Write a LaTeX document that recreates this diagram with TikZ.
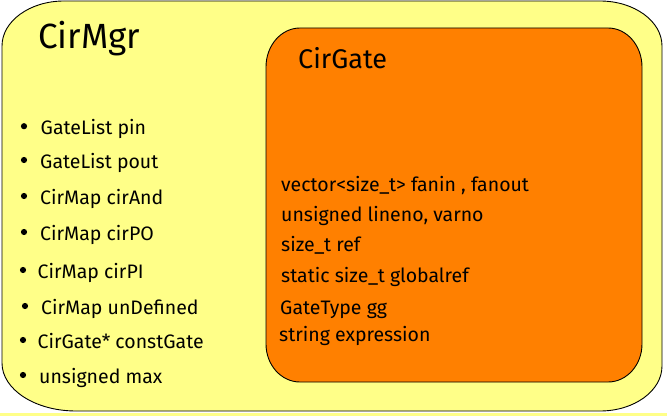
\documentclass[tikz,border=0pt]{standalone}
\usepackage{fontspec}
\setmainfont{Fira Sans}
\definecolor{mgrYellow}{HTML}{FFFF88}
\definecolor{gateOrange}{HTML}{FF8000}
\tikzset{field/.style={anchor=base west,inner sep=0pt,font=\fontsize{19.5}{23}\selectfont},
  boxtitle/.style={anchor=base west,inner sep=0pt}}

\begin{document}
\begin{tikzpicture}[line cap=round,line join=round,x=1pt,y=1pt]
\useasboundingbox (0,0) rectangle (667,416);
\fill[mgrYellow] (0,0) rectangle (667,3);
% CirMgr box
\draw[fill=mgrYellow,line width=0.9pt] (64,415) -- (600,415)
  arc[start angle=90,end angle=0,x radius=62,y radius=45] -- (662,50)
  arc[start angle=0,end angle=-90,x radius=62,y radius=45] -- (76,5)
  arc[start angle=270,end angle=180,x radius=74,y radius=48] -- (2,370)
  arc[start angle=180,end angle=90,x radius=62,y radius=45] -- cycle;
% CirGate box
\draw[fill=gateOrange,line width=0.9pt] (300,388) -- (608,388)
  arc[start angle=90,end angle=0,x radius=34,y radius=39] -- (642,72)
  arc[start angle=0,end angle=-90,x radius=34,y radius=38] -- (300,34)
  arc[start angle=270,end angle=180,x radius=34,y radius=38] -- (266,349)
  arc[start angle=180,end angle=90,x radius=34,y radius=39] -- cycle;
\node[boxtitle,font=\fontsize{35}{40}\selectfont] (mgr) at (38,367) {CirMgr};
\node[boxtitle,font=\fontsize{27}{32}\selectfont] (gate) at (298,347) {CirGate};
% CirMgr members
\node[field] (pin) at (40.5,281.7) {GateList pin};
\node[field] (pout) at (40,248) {GateList pout};
\node[field] (cirand) at (40,212) {CirMap cirAnd};
\node[field] (cirpo) at (40,176) {CirMap cirPO};
\node[field] (cirpi) at (37.5,138) {CirMap cirPI};
\node[field] (undef) at (41,102) {CirMap unDefined};
\node[field] (const) at (37.5,68) {CirGate* constGate};
\node[field] (maxv) at (39,33) {unsigned max};
\foreach \x/\y in {24/289.8,24/256,24/220,24/184,23/146,25/110,23/76,23/41}
  \fill (\x,\y) circle (3.1);
% CirGate members
\node[field] (fan) at (281,224.3) {vector<size\_t> fanin , fanout};
\node[field] (lineno) at (281,195) {unsigned lineno, varno};
\node[field] (ref) at (281,164.3) {size\_t ref};
\node[field] (gref) at (281,134) {static size\_t globalref};
\node[field] (gtype) at (280,102) {GateType gg};
\node[field] (expr) at (279,74.3) {string expression};
\end{tikzpicture}
\end{document}
